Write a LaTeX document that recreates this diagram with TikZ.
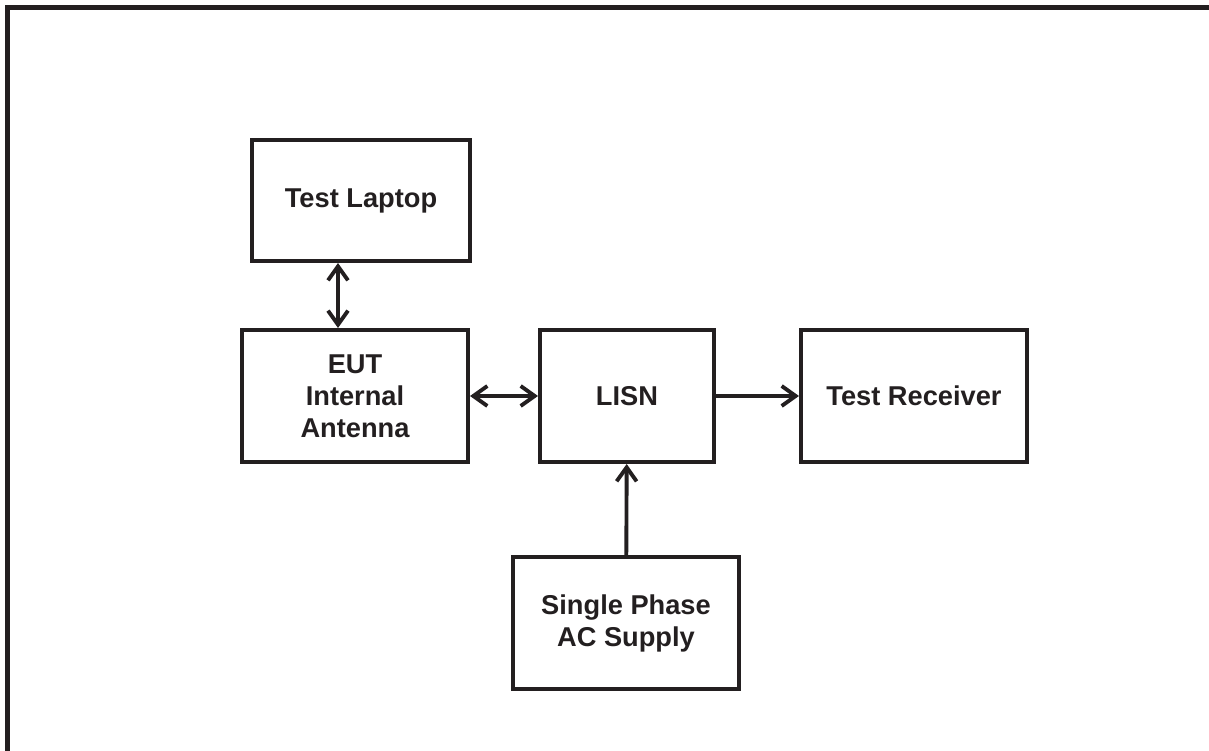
\documentclass[tikz,border=0pt]{standalone}
\usepackage{fontspec}
\setmainfont{Liberation Sans}
\usetikzlibrary{arrows.meta}
\definecolor{inkblack}{HTML}{231F20}

\begin{document}
\begin{tikzpicture}[inkblack,
        box/.style={draw, line width=2.3pt, rectangle, align=center, inner sep=0pt,
                font=\fontsize{15.5}{18.2}\selectfont\bfseries,
                minimum width=4.52cm, minimum height=2.64cm},
        link/.style={line width=2.2pt, line cap=round, line join=round},
        fwd/.style={link, -{Straight Barb[length=0.28cm, width=0.4cm]}},
        both/.style={link, {Straight Barb[length=0.28cm, width=0.4cm]}-{Straight Barb[length=0.28cm, width=0.4cm]}}]
        \useasboundingbox (0cm, 0cm) rectangle (24.18cm, 15.02cm);
        \draw [line width=0.1cm, line join=miter] (0.15cm, 0cm) -- (0.15cm, 14.87cm) -- (24.18cm, 14.87cm);
        \node (laptop) [box, minimum width=4.36cm, minimum height=2.42cm] at (7.220000cm, 11.010000cm) {Test Laptop};
        \node (eut) [box] at (7.100000cm, 7.100000cm) {EUT\\Internal\\Antenna};
        \node (lisn) [box, minimum width=3.48cm] at (12.540000cm, 7.100000cm) {LISN};
        \node (rcvr) [box] at (18.280000cm, 7.100000cm) {Test Receiver};
        \node (supply) [box] at (12.520000cm, 2.560000cm) {Single Phase\\AC Supply};
        \draw ([xshift=-0.46cm]laptop.south) edge [both] ([xshift=-0.34cm]eut.north);
        \draw (eut) edge [both] (lisn);
        \draw (lisn) edge [fwd] (rcvr);
        \draw (supply) edge [fwd] (lisn);
\end{tikzpicture}
\end{document}
